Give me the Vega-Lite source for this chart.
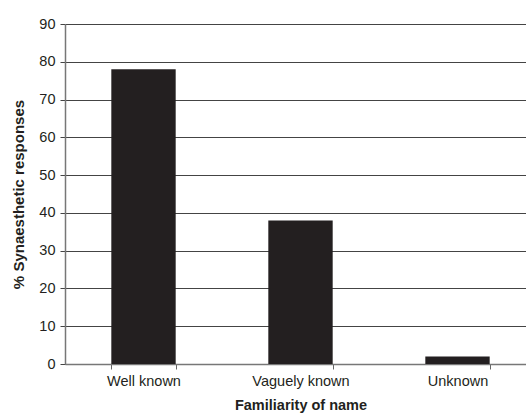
{
  "$schema": "https://vega.github.io/schema/vega-lite/v6.json",
  "width": 471,
  "height": 340,
  "autosize": {"type": "none"},
  "padding": {"left": 65, "top": 24, "right": 0, "bottom": 54},
  "background": "white",
  "config": {
    "view": {"stroke": null},
    "font": "Liberation Sans"
  },
  "data": {
    "values": [
      {"familiarity": "Well known", "pct": 78},
      {"familiarity": "Vaguely known", "pct": 38},
      {"familiarity": "Unknown", "pct": 2}
    ]
  },
  "mark": {"type": "bar", "color": "#231f20"},
  "encoding": {
    "x": {
      "field": "familiarity",
      "type": "nominal",
      "sort": null,
      "scale": {"paddingInner": 0.59, "paddingOuter": 0.295},
      "axis": {
        "title": "Familiarity of name",
        "titleFont": "Liberation Sans",
        "titleFontSize": 14.5,
        "titleFontWeight": "bold",
        "titleColor": "#231f20",
        "titlePadding": 11,
        "labelAngle": 0,
        "labelFontSize": 14.5,
        "labelColor": "#231f20",
        "labelPadding": 5,
        "tickBand": "extent",
        "tickSize": 5,
        "tickColor": "#666666",
        "domainColor": "#777777",
        "domainWidth": 1.5,
        "grid": false
      }
    },
    "y": {
      "field": "pct",
      "type": "quantitative",
      "scale": {"domain": [0, 90], "nice": false},
      "axis": {
        "title": "% Synaesthetic responses",
        "titleFont": "Liberation Sans",
        "titleFontSize": 15,
        "titleFontWeight": "bold",
        "titleColor": "#231f20",
        "titlePadding": 12,
        "values": [0, 10, 20, 30, 40, 50, 60, 70, 80, 90],
        "labelFontSize": 14.5,
        "labelColor": "#231f20",
        "labelPadding": 5,
        "tickSize": 5,
        "tickColor": "#444444",
        "domainColor": "#777777",
        "domainWidth": 1.5,
        "grid": true,
        "gridColor": "#444444",
        "gridWidth": 1,
        "gridOpacity": 1
      }
    }
  }
}
